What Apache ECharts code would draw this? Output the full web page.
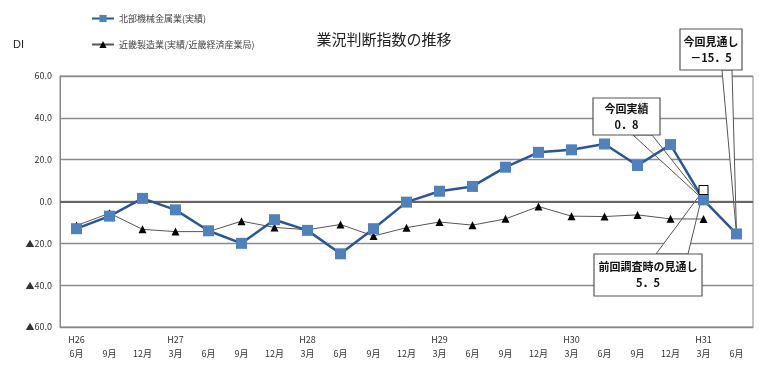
<!DOCTYPE html>
<html>
<head>
<meta charset="utf-8">
<script src="https://cdn.jsdelivr.net/npm/echarts@6/dist/echarts.min.js"></script>
<style>
  html, body { margin: 0; padding: 0; background: #fff; }
  #chart { width: 759px; height: 365px; }
</style>
</head>
<body>
<div id="chart"></div>
<script>
// 四半期（月）ラベルと年ラベル
const months = ['6月', '9月', '12月', '3月', '6月', '9月', '12月', '3月', '6月', '9月', '12月',
  '3月', '6月', '9月', '12月', '3月', '6月', '9月', '12月', '3月', '6月'];
const years = ['H26', '', '', 'H27', '', '', '', 'H28', '', '', '', 'H29', '', '', '', 'H30', '', '', '', 'H31', ''];

// 北部機械金属業(実績)
const hokubuValues = [-13, -7, 1.5, -4, -14, -20, -8.7, -13.8, -25, -13, -0.3,
  4.9, 7.2, 16.4, 23.5, 24.7, 27.5, 17.2, 27.2, 0.8, -15.5];
// 近畿製造業(実績/近畿経済産業局)
const kinkiValues = [-11.5, -5.6, -13.3, -14.4, -14.4, -9.4, -12.4, -13.5, -11, -16.5, -12.5,
  -9.8, -11.3, -8.3, -2.4, -7, -7.2, -6.4, -8.3, -8.4];
// 前回調査時の見通し
const prevForecast = [null, null, null, null, null, null, null, null, null, null, null,
  null, null, null, null, null, null, null, null, 5.5, null];

const yTicks = { min: -60, max: 60, interval: 20 };

const chart = echarts.init(document.getElementById('chart'));

const option = {
  animation: false,
  textStyle: { fontFamily: '"Noto Sans CJK JP", "Noto Sans", sans-serif' },
  title: {
    text: '業況判断指数の推移',
    left: 379,
    top: 27,
    textAlign: 'center',
    textStyle: { fontSize: 15, fontWeight: 'normal', color: '#222' }
  },
  legend: {
    orient: 'vertical',
    left: 86,
    top: 9,
    itemGap: 17,
    itemWidth: 22,
    itemHeight: 9,
    textStyle: { fontSize: 9, color: '#444' },
    data: ['北部機械金属業(実績)', '近畿製造業(実績/近畿経済産業局)']
  },
  grid: {
    left: 60, right: 6, top: 76, bottom: 38,
    show: true, borderColor: '#888', borderWidth: 1
  },
  xAxis: {
    type: 'category',
    data: months,
    boundaryGap: true,
    axisLine: { onZero: false, lineStyle: { color: '#888' } },
    axisTick: { show: false },
    axisLabel: {
      interval: 0,
      fontSize: 9,
      color: '#333',
      lineHeight: 14,
      margin: 6,
      formatter: (v, i) => (years[i] || ' ') + '\n' + v
    }
  },
  yAxis: {
    type: 'value',
    min: yTicks.min,
    max: yTicks.max,
    interval: yTicks.interval,
    axisLine: { show: true, lineStyle: { color: '#888' } },
    axisTick: { show: false },
    splitLine: { lineStyle: { color: '#8a8a8a', width: 1.4 } },
    axisLabel: {
      fontSize: 9,
      color: '#333',
      margin: 8,
      formatter: v => (v < 0 ? '▲' + Math.abs(v).toFixed(1) : v.toFixed(1))
    }
  },
  graphic: [{
    type: 'text', left: 13, top: 39,
    style: { text: 'DI', fontSize: 11, fill: '#222' }
  }],
  series: [
    {
      name: '近畿製造業(実績/近畿経済産業局)',
      type: 'line',
      data: kinkiValues,
      symbol: 'triangle',
      symbolSize: 8,
      itemStyle: { color: '#000' },
      lineStyle: { color: '#555', width: 1 },
      z: 3
    },
    {
      name: '北部機械金属業(実績)',
      type: 'line',
      data: hokubuValues,
      symbol: 'rect',
      symbolSize: 11,
      itemStyle: { color: '#4f81bd' },
      lineStyle: { color: '#2a5596', width: 2.5 },
      markLine: {
        silent: true,
        symbol: ['none', 'none'],
        label: { show: false },
        lineStyle: { color: '#666', width: 1.8, type: 'solid' },
        data: [{ yAxis: 0 }],
        z: 1
      },
      z: 4
    },
    {
      name: '前回調査時の見通し',
      type: 'line',
      data: prevForecast,
      symbol: 'rect',
      symbolSize: 9,
      itemStyle: { color: '#fff', borderColor: '#000', borderWidth: 1 },
      lineStyle: { width: 0 },
      z: 5
    }
  ]
};

chart.setOption(option);

// 吹き出し（コールアウト）
function callout(idx, value, box, base, lines) {
  const tip = chart.convertToPixel({ seriesIndex: 1 }, [idx, value]);
  const els = [];
  els.push({
    type: 'polygon', z: 1,
    shape: { points: [base[0], tip, base[1]] },
    style: { fill: '#fff', stroke: '#555', lineWidth: 1 }
  });
  els.push({
    type: 'rect', z: 20,
    shape: { x: box[0], y: box[1], width: box[2], height: box[3] },
    style: { fill: '#fff', stroke: '#555', lineWidth: 1.2 }
  });
  els.push({
    type: 'text', z: 21,
    x: box[0] + box[2] / 2, y: box[1] + box[3] / 2,
    style: {
      text: lines.join('\n'), fontSize: 11, fontWeight: 'bold', lineHeight: 16,
      align: 'center', verticalAlign: 'middle', fill: '#111',
      fontFamily: '"Noto Sans CJK JP", sans-serif'
    }
  });
  return els;
}

const extra = [].concat(
  callout(20, hokubuValues[20], [680, 29, 62, 41], [[722, 70], [732, 70]], ['今回見通し', '－15．5']),
  callout(19, hokubuValues[19], [593, 98, 67, 37], [[633, 135], [652, 135]], ['今回実績', '0．8']),
  callout(19, prevForecast[19], [594, 254, 108, 42], [[656, 254], [688, 254]], ['前回調査時の見通し', '5．5'])
);

chart.setOption({ graphic: option.graphic.concat(extra) });
</script>
</body>
</html>
